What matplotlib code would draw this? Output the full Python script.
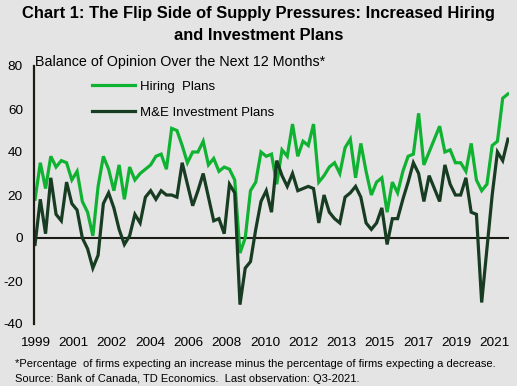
import numpy as np
import matplotlib
matplotlib.use("Agg")
import matplotlib.pyplot as plt

plt.rcParams['font.family'] = ['Liberation Sans', 'DejaVu Sans']

# Quarterly data, Q1-1999 .. Q3-2021
start_year = 1999
hiring = [18, 35, 23, 38, 33, 36, 35, 27, 31, 17,
          12, 1, 24, 38, 32, 22, 34, 18, 33, 27,
          30, 32, 34, 38, 39, 32, 51, 50, 43, 35,
          40, 40, 45, 34, 37, 31, 33, 32, 27, -7,
          0, 22, 26, 40, 38, 39, 25, 41, 38, 53,
          38, 45, 43, 53, 26, 29, 33, 35, 30, 42,
          46, 28, 44, 31, 20, 26, 28, 12, 26, 21,
          31, 38, 39, 58, 34, 40, 46, 52, 40, 41,
          35, 35, 31, 44, 27, 22, 25, 43, 45, 65,
          67]
investment = [-3, 18, 2, 28, 11, 8, 26, 16, 13, 0,
              -5, -14, -8, 16, 21, 14, 4, -3, 1, 11,
              7, 19, 22, 18, 22, 20, 20, 19, 35, 25,
              15, 22, 30, 19, 8, 9, 2, 25, 21, -31,
              -14, -11, 4, 17, 22, 12, 36, 29, 24, 30,
              22, 23, 24, 23, 7, 20, 12, 9, 7, 19,
              21, 24, 19, 7, 4, 7, 14, -3, 9, 9,
              18, 26, 35, 30, 17, 29, 23, 17, 34, 25,
              20, 20, 28, 12, 11, -30, -5, 20, 40, 36,
              46]
tick_labels = ['1999', '2001', '2002', '2004', '2006', '2008', '2010',
               '2012', '2013', '2015', '2017', '2019', '2021']
y_ticks = [-40, -20, 0, 20, 40, 60, 80]

bg = '#e4e4e4'
green = '#10b232'
dark = '#173c22'
axis_col = '#1c1c14'

fig = plt.figure(figsize=(5.17, 3.86), dpi=100, facecolor=bg)
ax = fig.add_axes([34/517, 1-324/386, (509-34)/517, (324-66)/386], facecolor=bg)

x = np.arange(len(hiring))
ax.plot(x, hiring, color=green, lw=2.3, label='Hiring  Plans', solid_joinstyle='miter')
ax.plot(x, investment, color=dark, lw=2.3, label='M&E Investment Plans', solid_joinstyle='miter')
ax.axhline(0, color=axis_col, lw=1.5, zorder=1)

ax.set_xlim(-0.2, len(hiring) - 0.8)
ax.set_ylim(-40, 80)
ax.set_yticks(y_ticks)
ax.set_yticklabels([str(v) for v in y_ticks])
ax.set_xticks(np.linspace(0, 87.5, len(tick_labels)))
ax.set_xticklabels(tick_labels)
ax.tick_params(axis='both', length=0, labelsize=9.7, colors='black')
ax.tick_params(axis='y', pad=8)
ax.tick_params(axis='x', pad=9)

for s in ['top', 'right', 'bottom']:
    ax.spines[s].set_visible(False)
ax.spines['left'].set_color(axis_col)
ax.spines['left'].set_linewidth(1.6)

leg = ax.legend(loc='upper left', bbox_to_anchor=(0.11, 0.965), frameon=False,
                fontsize=9.5, handlelength=3.3, handletextpad=0.35,
                labelspacing=1.05, borderaxespad=0)

fig.text(0.5, 1 - 6/386, 'Chart 1: The Flip Side of Supply Pressures: Increased Hiring\nand Investment Plans',
         ha='center', va='top', fontsize=11.9, fontweight='bold', linespacing=1.62)
fig.text(35/517, 1 - 62/386, 'Balance of Opinion Over the Next 12 Months*',
         ha='left', va='center', fontsize=10.3)
fig.text(15/517, 1 - 364/386,
         '*Percentage  of firms expecting an increase minus the percentage of firms expecting a decrease.',
         ha='left', va='center', fontsize=8.05)
fig.text(15/517, 1 - 379/386,
         'Source: Bank of Canada, TD Economics.  Last observation: Q3-2021.',
         ha='left', va='center', fontsize=8.05)

fig.savefig('out.png', dpi=100, facecolor=bg)
